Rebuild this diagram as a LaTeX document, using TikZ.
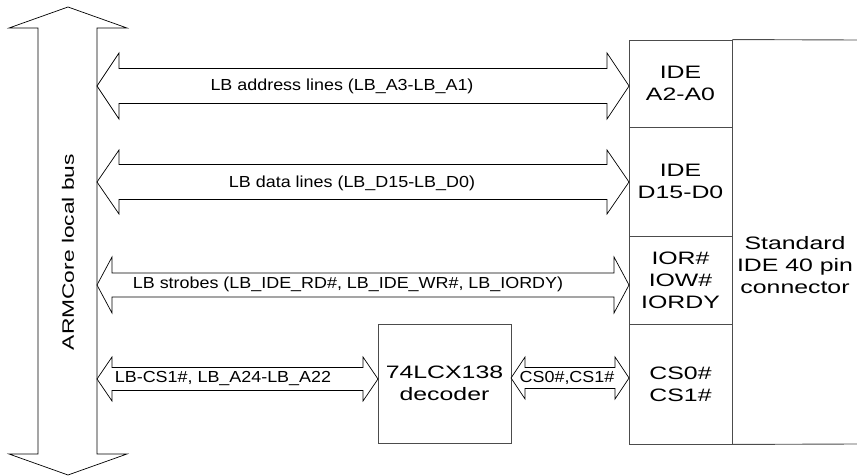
\documentclass[tikz,border=0pt]{standalone}
\usepackage{fontspec}
\setmainfont{Liberation Sans}
\newfontfamily\lblfont{Liberation Sans}[FakeStretch=1.12]
\newfontfamily\boxfont{Liberation Sans}[FakeStretch=1.38]
\tikzset{
  blk/.style={draw=black!70, line width=0.9pt, inner sep=0pt},
  barrow/.style={draw=black, line width=0.7pt, fill=white, line join=miter},
  lbl/.style={font=\lblfont\fontsize{16}{19}\selectfont, inner sep=0pt},
  boxtxt/.style={font=\boxfont\fontsize{18}{22}\selectfont, align=center},
}
% x1 x2 yc shaft-half head-half head-length
\newcommand\hdblarrow[6]{%
  \draw[barrow] (#1,#3) -- ({#1+#6},{#3-#5}) -- ({#1+#6},{#3-#4}) -- ({#2-#6},{#3-#4})
    -- ({#2-#6},{#3-#5}) -- (#2,#3) -- ({#2-#6},{#3+#5}) -- ({#2-#6},{#3+#4})
    -- ({#1+#6},{#3+#4}) -- ({#1+#6},{#3+#5}) -- cycle;}
\begin{document}
\begin{tikzpicture}[x=1pt,y=-1pt]
\useasboundingbox (0,0) rectangle (857,476);
% vertical local bus
\draw[barrow] (68,7) -- (127,28) -- (97,28) -- (97,454) -- (127,454) -- (68,475)
  -- (9,454) -- (38,454) -- (38,28) -- (9,28) -- cycle;
\node[rotate=90, font=\boxfont\fontsize{16.5}{20}\selectfont, inner sep=0pt] (bus) at (68,252) {ARMCore local bus};

% IDE connector cells
\node[blk, boxtxt, minimum width=103pt, minimum height=87pt] (ide1) at (680.5,83.5) {IDE\\A2-A0};
\node[blk, boxtxt, minimum width=103pt, minimum height=109pt] (ide2) at (680.5,181.5) {IDE\\D15-D0};
\node[blk, boxtxt, minimum width=103pt, minimum height=88pt] (ide3) at (680.5,280) {IOR\#\\IOW\#\\IORDY};
\node[blk, boxtxt, minimum width=103pt, minimum height=120pt] (ide4) at (680.5,384) {CS0\#\\CS1\#};
\draw[blk] (ide1.north east) -- (857,40);
\draw[blk] (ide4.south east) -- (857,444);
\node[boxtxt, inner sep=0pt] (conn) at (795,265) {Standard\\IDE 40 pin\\connector};

% decoder
\node[blk, boxtxt, minimum width=133pt, minimum height=119pt] (dec) at (444.5,383.5) {74LCX138\\decoder};

% block arrows
\hdblarrow{97}{629}{86}{17.5}{33}{22}
\node[lbl] (la) at (342,86) {LB address lines (LB\_A3-LB\_A1)};
\hdblarrow{97}{629}{182}{17.5}{32}{22}
\node[lbl] (ld) at (352,183) {LB data lines (LB\_D15-LB\_D0)};
\hdblarrow{97}{629}{285}{12}{28}{15}
\node[lbl] (ls) at (348,284) {LB strobes (LB\_IDE\_RD\#, LB\_IDE\_WR\#, LB\_IORDY)};
\hdblarrow{97}{378}{379}{11.5}{22}{15}
\node[lbl] (lc) at (223,379) {LB-CS1\#, LB\_A24-LB\_A22};
\hdblarrow{511}{629}{378}{10.5}{21}{14}
\node[lbl] (lcs) at (567,378) {CS0\#,CS1\#};
\end{tikzpicture}
\end{document}
